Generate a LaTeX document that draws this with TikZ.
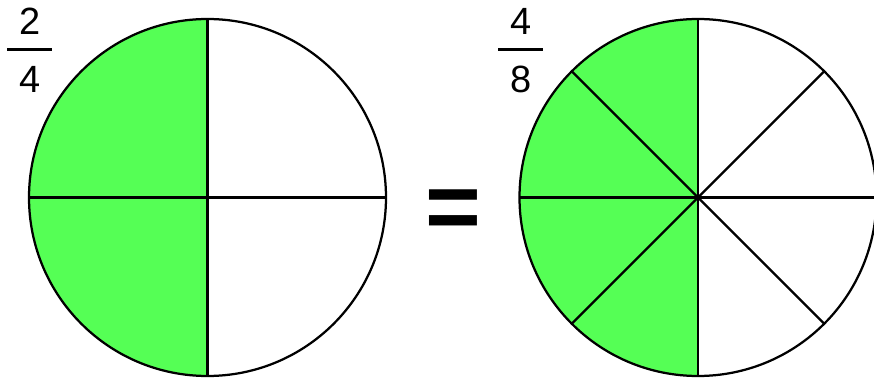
\documentclass[tikz,border=0pt]{standalone}
\usepackage{fontspec}
\setmainfont{Liberation Sans}
\usepackage{tikz}
\usetikzlibrary{calc}
\definecolor{piegreen}{RGB}{85,255,85}
\begin{document}
\begin{tikzpicture}[line width=1.6pt,
  digit/.style={anchor=base,inner sep=0pt,font=\fontsize{27}{27}\selectfont},
  fracbar/.style={line width=2.4pt},
  slice/.style={fill=piegreen,draw=none}]
\useasboundingbox (0,0) rectangle (21.85,9.525);
% left circle: 2/4
\coordinate (L) at (5.1875,4.5875);
\fill[slice] (L) -- ++(90:4.4625) arc (90:270:4.4625) -- cycle;
\draw (L) circle (4.4625);
\draw ($(L)+(0,4.4625)$) -- ($(L)+(0,-4.4625)$);
\draw ($(L)+(-4.4625,0)$) -- ($(L)+(4.4625,0)$);
\node[digit] (n1) at (0.75,8.65) {2};
\node[digit] (d1) at (0.75,7.2) {4};
\draw[fracbar] (0.175,8.2875) -- (1.3,8.2875);
% equals
\node[inner sep=0pt,font=\bfseries\fontsize{68}{68}\selectfont] (eq) at (11.325,4.15) {=};
% right circle: 4/8
\coordinate (R) at (17.45,4.5875);
\fill[slice] (R) -- ++(90:4.4625) arc (90:270:4.4625) -- cycle;
\draw (R) circle (4.4625);
\foreach \a in {0,45,90,135} {
  \draw ($(R)+(\a:4.4625)$) -- ($(R)+(\a+180:4.4625)$);
}
\node[digit] (n2) at (13.025,8.65) {4};
\node[digit] (d2) at (13.025,7.2) {8};
\draw[fracbar] (12.45,8.2875) -- (13.575,8.2875);
\end{tikzpicture}
\end{document}
